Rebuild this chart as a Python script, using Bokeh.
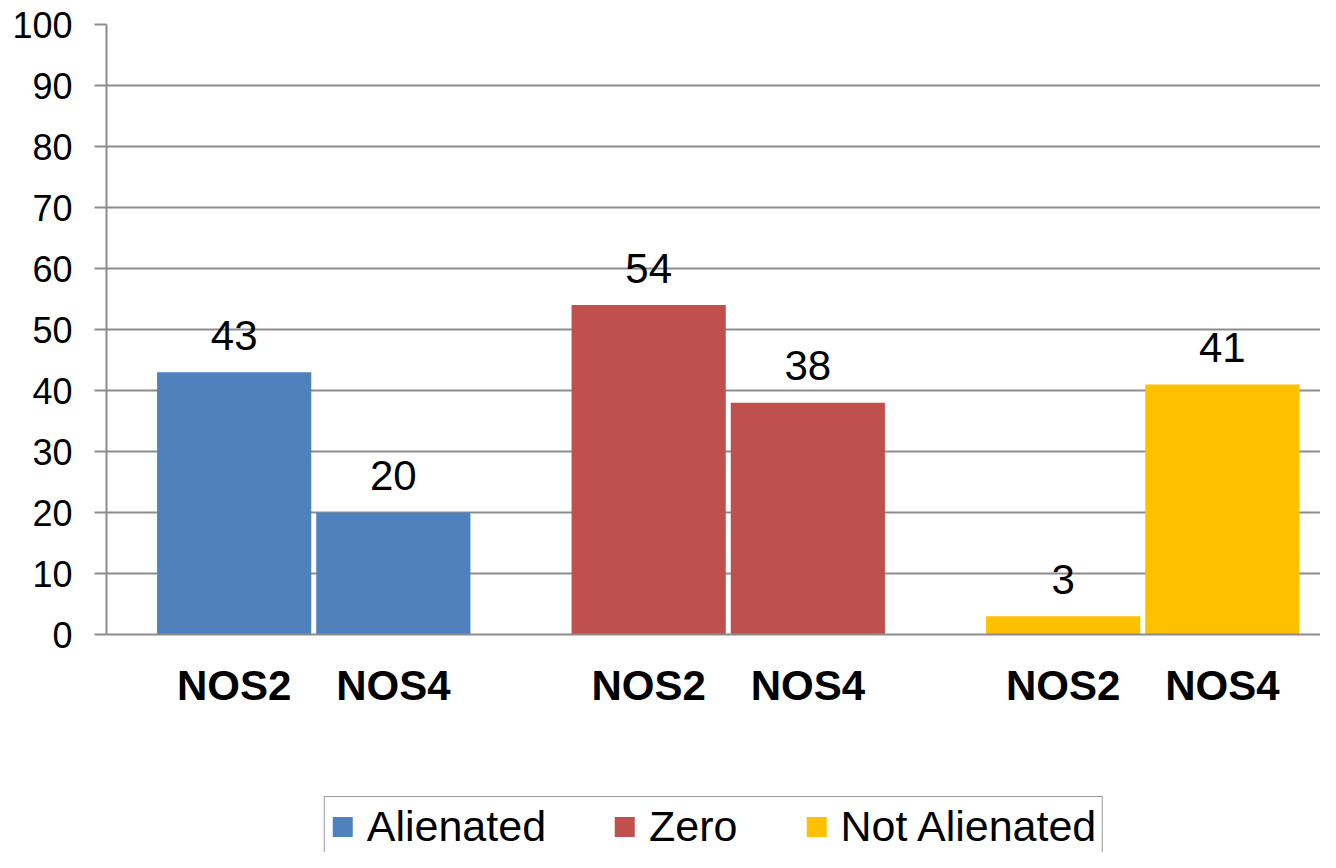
from bokeh.plotting import figure
from bokeh.layouts import column
from bokeh.models import Range1d, FixedTicker, Legend, LegendItem, ColumnDataSource
from bokeh.core.properties import value
from bokeh.embed import file_html
from bokeh.resources import INLINE

# ---- data ----
groups = ["Alienated", "Zero", "Not Alienated"]
subcats = ["NOS2", "NOS4"]
alienated = [43, 20]
zero = [54, 38]
not_alienated = [3, 41]
series_values = [alienated, zero, not_alienated]
colors = ["#4F81BD", "#C0504D", "#FFC000"]
y_ticks = [0, 10, 20, 30, 40, 50, 60, 70, 80, 90, 100]

FONT = "Liberation Sans"
GRID = "#8c8c8c"

# layout constants (in group units: group pitch = 1)
sub_offset = 0.192
bar_w = 0.372

W = 1320
p = figure(width=W, height=790, output_backend="svg", toolbar_location=None,
           x_range=Range1d(-0.5, -0.5 + (W - 106) / 414.5), y_range=Range1d(0, 100),
           min_border_left=106, min_border_right=0, min_border_top=24,
           min_border_bottom=156)
p.outline_line_color = None
p.background_fill_color = "white"
p.border_fill_color = "white"

# legend-only strip below the chart
p2 = figure(width=W, height=62, output_backend="svg", toolbar_location=None,
            x_range=Range1d(-0.5, 2.5), y_range=Range1d(0, 100),
            x_axis_location=None, y_axis_location=None,
            min_border_left=80, min_border_right=0, min_border_top=0,
            min_border_bottom=0)
p2.outline_line_color = None
p2.grid.grid_line_color = None
p2.background_fill_color = "white"
p2.border_fill_color = "white"

tick_pos = []
tick_lab = {}
legend_items = []
for gi, (g, vals, col) in enumerate(zip(groups, series_values, colors)):
    xs = [gi + (si - 0.5) * 2 * sub_offset for si in range(len(subcats))]
    src = ColumnDataSource(dict(x=xs, top=vals, lab=[str(v) for v in vals]))
    p.vbar(x="x", top="top", width=bar_w, bottom=0, source=src,
           fill_color=col, line_color=None)
    p.text(x="x", y="top", text="lab", source=src, y_offset=-37,
           text_align="center", text_baseline="alphabetic",
           text_font=value(FONT), text_font_size="42px", text_color="black")
    r2 = p2.vbar(x="x", top="top", width=bar_w, bottom=0, source=src,
                 fill_color=col, line_color=None, visible=False)
    legend_items.append(LegendItem(label=g, renderers=[r2]))
    for x, s in zip(xs, subcats):
        tick_pos.append(x)
        tick_lab[x] = s

# y axis
p.yaxis.ticker = FixedTicker(ticks=y_ticks)
p.yaxis.major_label_text_font = FONT
p.yaxis.major_label_text_font_size = "36px"
p.yaxis.major_label_text_color = "black"
p.yaxis.axis_line_color = GRID
p.yaxis.axis_line_width = 2
p.yaxis.major_tick_line_color = GRID
p.yaxis.major_tick_line_width = 2
p.yaxis.major_tick_out = 12
p.yaxis.major_tick_in = 0
p.yaxis.minor_tick_line_color = None
p.yaxis.major_label_standoff = 22

# x axis
p.xaxis.ticker = FixedTicker(ticks=tick_pos)
p.xaxis.major_label_overrides = tick_lab
p.xaxis.major_label_text_font = FONT
p.xaxis.major_label_text_font_size = "42px"
p.xaxis.major_label_text_font_style = "bold"
p.xaxis.major_label_text_color = "black"
p.xaxis.axis_line_color = GRID
p.xaxis.axis_line_width = 2
p.xaxis.major_tick_line_color = None
p.xaxis.minor_tick_line_color = None
p.xaxis.major_tick_out = 0
p.xaxis.major_tick_in = 0
p.xaxis.major_label_standoff = 27

p.xgrid.grid_line_color = None
p.ygrid.grid_line_color = GRID
p.ygrid.grid_line_width = 2

legend = Legend(items=legend_items, orientation="horizontal", location="top_center",
                label_text_font=FONT, label_text_font_size="43px",
                label_text_color="black", glyph_width=25, glyph_height=25,
                label_standoff=12, spacing=66, padding=5, margin=6,
                inactive_fill_alpha=0,
                border_line_color="#333333", border_line_width=1,
                background_fill_color="white", background_fill_alpha=1)
p2.add_layout(legend, "center")

open("out.html", "w").write(file_html(column(p, p2, spacing=0), INLINE))
